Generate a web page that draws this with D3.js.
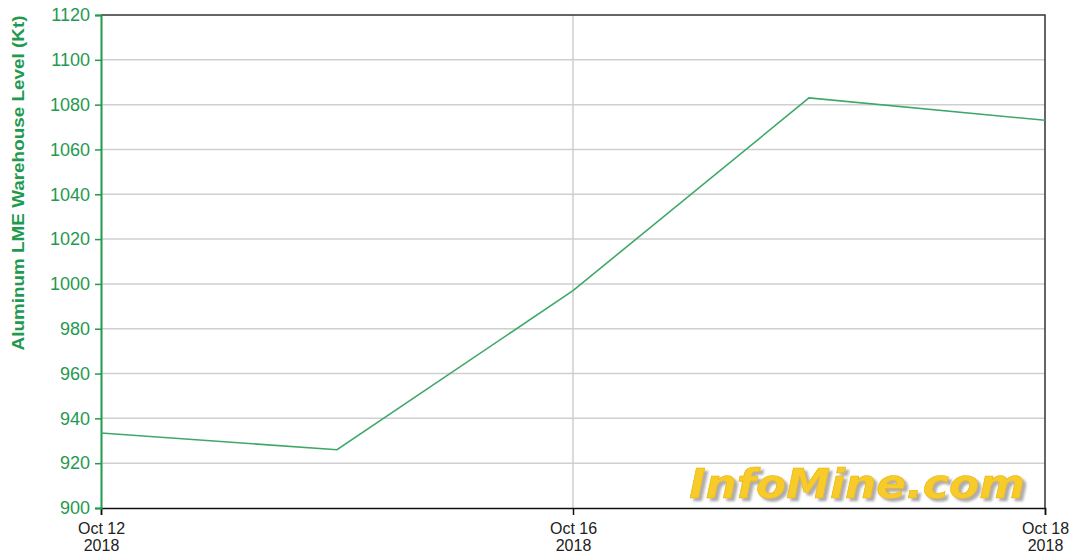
<!DOCTYPE html>
<html>
<head>
<meta charset="utf-8">
<script src="https://cdn.jsdelivr.net/npm/d3@7"></script>
<style>
  body { margin: 0; background: #fff; }
  svg { display: block; font-family: Arial, "Liberation Sans", sans-serif; }
</style>
</head>
<body>
<div id="my_dataviz"></div>
<script>
// data (trading days, evenly spaced)
var dates = ["2018-10-12", "2018-10-15", "2018-10-16", "2018-10-17", "2018-10-18"];
var levels = [933.5, 926, 997, 1083, 1073];
var yTicks = [900, 920, 940, 960, 980, 1000, 1020, 1040, 1060, 1080, 1100, 1120];
var xTicks = ["2018-10-12", "2018-10-16", "2018-10-18"];

var parse = d3.timeParse("%Y-%m-%d");
var data = dates.map(function (d, i) { return { date: d, value: levels[i] }; });

var margin = { top: 15, right: 35, bottom: 48, left: 101 },
    width = 1080 - margin.left - margin.right,
    height = 556 - margin.top - margin.bottom;

var green = "#1f9a4f";

var root = d3.select("#my_dataviz")
    .append("svg")
    .attr("width", 1080)
    .attr("height", 556);

var f = root.append("defs").append("filter").attr("id", "shadow")
    .attr("x", "-5%").attr("y", "-20%").attr("width", "115%").attr("height", "150%");
f.append("feDropShadow")
    .attr("dx", 3).attr("dy", 3).attr("stdDeviation", 1)
    .attr("flood-color", "#999").attr("flood-opacity", 0.8);

var svg = root.append("g")
    .attr("transform", "translate(" + margin.left + "," + margin.top + ")");

var x = d3.scalePoint()
    .domain(dates)
    .range([0, width]);

var y = d3.scaleLinear()
    .domain([900, 1120])
    .range([height, 0]);

// horizontal grid
svg.append("g")
    .selectAll("line")
    .data(yTicks.slice(1, -1))
    .enter()
    .append("line")
    .attr("x1", 0)
    .attr("x2", width)
    .attr("y1", function (d) { return y(d); })
    .attr("y2", function (d) { return y(d); })
    .style("stroke", "#cfcfcf")
    .style("stroke-width", 1.5);

// vertical grid (inner ticks only)
svg.append("g")
    .selectAll("line")
    .data(xTicks.slice(1, -1))
    .enter()
    .append("line")
    .attr("x1", function (d) { return x(d); })
    .attr("x2", function (d) { return x(d); })
    .attr("y1", 0)
    .attr("y2", height)
    .style("stroke", "#cfcfcf")
    .style("stroke-width", 1.5);

// watermark
svg.append("text")
    .attr("transform", "translate(" + (width - 20) + "," + (height - 10) + ") scale(1.1,1)")
    .attr("text-anchor", "end")
    .attr("filter", "url(#shadow)")
    .style("font-family", "'DejaVu Sans', Arial, sans-serif")
    .style("font-weight", "bold")
    .style("font-style", "italic")
    .style("font-size", "40px")
    .style("fill", "#f7cb2a")
    .style("stroke", "#e8b400")
    .style("stroke-width", 0.6)
    .text("InfoMine.com");

// top and right frame
svg.append("path")
    .attr("d", "M0,0H" + width + "V" + height)
    .style("fill", "none")
    .style("stroke", "#333")
    .style("stroke-width", 1.5);

// X axis
var xAxis = svg.append("g")
    .attr("transform", "translate(0," + height + ")")
    .call(d3.axisBottom(x)
        .tickValues(xTicks)
        .tickSize(7)
        .tickFormat(""));
xAxis.select(".domain").style("stroke", "#111").style("stroke-width", 1.5);
xAxis.selectAll(".tick line").style("stroke", "#111").style("stroke-width", 1.5);
var xl = xAxis.selectAll(".tick").append("text")
    .attr("text-anchor", "middle")
    .style("fill", "#222")
    .style("font-size", "16px");
xl.append("tspan").attr("x", 0).attr("y", 26).text(function (d) { return d3.timeFormat("%b %-d")(parse(d)); });
xl.append("tspan").attr("x", 0).attr("y", 43).text(function (d) { return d3.timeFormat("%Y")(parse(d)); });

// Y axis
var yAxis = svg.append("g")
    .call(d3.axisLeft(y).tickValues(yTicks).tickSize(6).tickPadding(5).tickFormat(d3.format("d")));
yAxis.select(".domain").style("stroke", green).style("stroke-width", 2);
yAxis.selectAll(".tick line").style("stroke", green).style("stroke-width", 1.5);
yAxis.selectAll(".tick text")
    .style("fill", green)
    .style("font-size", "18px")
    .style("font-family", "Arial, 'Liberation Sans', sans-serif");

// Y label
svg.append("text")
    .attr("transform", "translate(" + (-77) + "," + (168) + ") rotate(-90)")
    .attr("text-anchor", "middle")
    .attr("textLength", 335)
    .attr("lengthAdjust", "spacingAndGlyphs")
    .style("fill", green)
    .style("font-size", "17px")
    .style("font-weight", "bold")
    .text("Aluminum LME Warehouse Level (Kt)");

// line
svg.append("path")
    .datum(data)
    .attr("d", d3.line()
        .x(function (d) { return x(d.date); })
        .y(function (d) { return y(d.value); }))
    .style("fill", "none")
    .style("stroke", "#3ea86a")
    .style("stroke-width", 1.6);
</script>
</body>
</html>
